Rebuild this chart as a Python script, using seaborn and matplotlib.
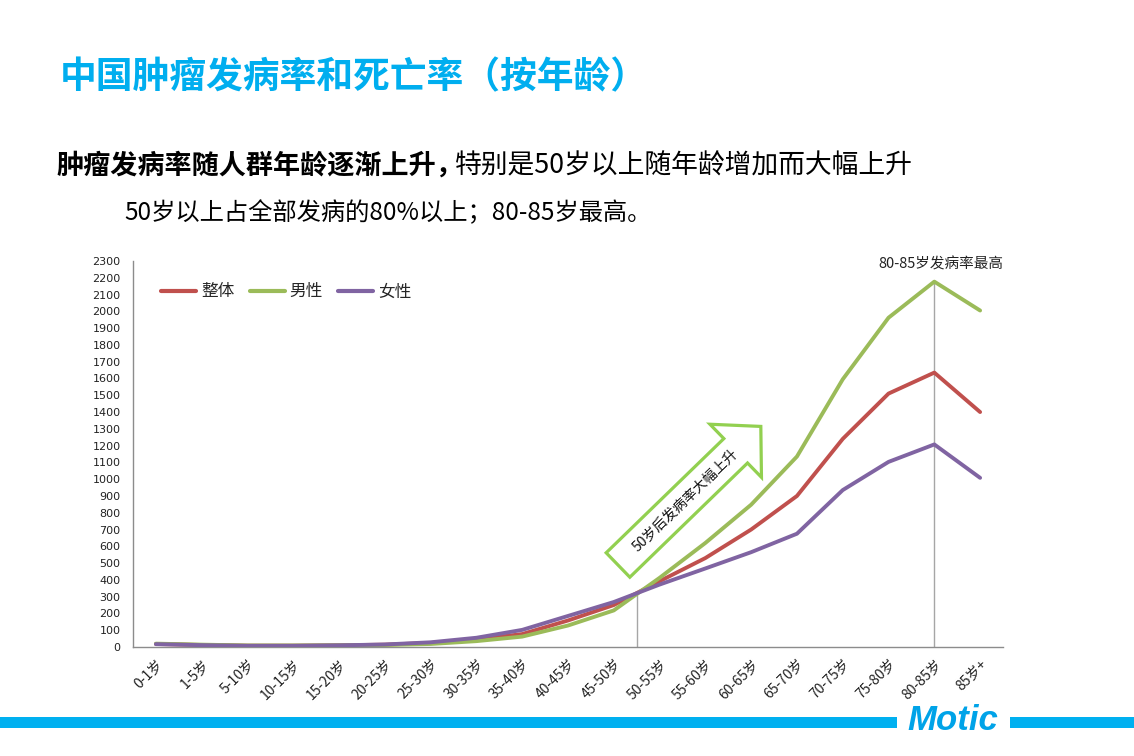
import numpy as np
import pandas as pd
import matplotlib
matplotlib.use("Agg")
import matplotlib.pyplot as plt
import seaborn as sns
from matplotlib.patches import Polygon, Rectangle

# ---------------- data ----------------
ages = ["0-1岁", "1-5岁", "5-10岁", "10-15岁", "15-20岁", "20-25岁", "25-30岁",
        "30-35岁", "35-40岁", "40-45岁", "45-50岁", "50-55岁", "55-60岁", "60-65岁",
        "65-70岁", "70-75岁", "75-80岁", "80-85岁", "85岁+"]
series_names = ["整体", "男性", "女性"]
total = [18, 12, 8, 8, 10, 14, 24, 45, 77, 158, 250, 392, 530, 700, 900, 1240, 1510, 1635, 1400]
male = [20, 14, 9, 9, 10, 12, 18, 35, 62, 128, 218, 412, 620, 848, 1135, 1595, 1962, 2177, 2005]
female = [17, 11, 7, 7, 10, 15, 28, 55, 102, 185, 268, 372, 468, 565, 675, 935, 1103, 1207, 1008]
yticks = list(range(0, 2301, 100))
colors = ["#C0504D", "#9BBB59", "#8064A2"]

W, H = 1134, 756

sns.set_style("white")
plt.rcParams['font.family'] = ['Noto Sans CJK SC', 'DejaVu Sans']
plt.rcParams['axes.unicode_minus'] = False

df = pd.DataFrame({
    "pos": np.tile(np.arange(len(ages)), 3),
    "age": ages * 3,
    "value": total + male + female,
    "series": np.repeat(series_names, len(ages)),
})

fig = plt.figure(figsize=(W / 100, H / 100), dpi=100)
fig.patch.set_facecolor("white")

def px(x, y):
    return x / W, 1 - y / H

ax_left, ax_right, ax_top, ax_bottom = 133, 1003, 261, 647
ax = fig.add_axes([ax_left / W, 1 - ax_bottom / H, (ax_right - ax_left) / W, (ax_bottom - ax_top) / H])

sns.lineplot(data=df, x="pos", y="value", hue="series", hue_order=series_names,
             palette=colors, linewidth=2.8, ax=ax, sort=False, legend=True, zorder=3)

ax.set_xlim(-0.5, len(ages) - 0.5)
ax.set_ylim(0, 2300)
ax.set_xlabel("")
ax.set_ylabel("")

# ticks
ax.set_yticks(yticks)
ax.set_yticklabels([str(v) for v in yticks], fontsize=8, family="DejaVu Sans", color="#222222")
ax.set_xticks(np.arange(len(ages)))
ax.set_xticklabels(ages, rotation=45, ha="right", rotation_mode="anchor", fontsize=10, color="#222222")
ax.set_xticks(np.arange(-0.5, len(ages)), minor=True)
ax.tick_params(axis="x", which="major", length=0, pad=7)
ax.tick_params(axis="x", which="minor", length=5, color="#8C8C8C", width=1, direction="out")
ax.tick_params(axis="y", which="major", length=4, color="#8C8C8C", width=1, direction="out", pad=5)

for s in ["top", "right"]:
    ax.spines[s].set_visible(False)
for s in ["left", "bottom"]:
    ax.spines[s].set_color("#8C8C8C")
    ax.spines[s].set_linewidth(1)
ax.grid(False)

# legend
leg = ax.legend(loc="center left", bbox_to_anchor=(0.025, 0.92), ncol=3, frameon=False,
                fontsize=12, handlelength=2.1, handletextpad=0.3, columnspacing=0.9, borderaxespad=0)
for line in leg.get_lines():
    line.set_linewidth(3)

# reference vertical lines
b = 10.5
ax.plot([b, b], [0, (total[10] + total[11]) / 2], color="#A6A6A6", lw=1, zorder=2)
ax.plot([17, 17], [0, male[17]], color="#A6A6A6", lw=1, zorder=2)

# peak annotation
fig.text(*px(1003, 264), "80-85岁发病率最高", ha="right", va="center", fontsize=10.5, color="#222222")

# hollow arrow annotation (pixel geometry)
S = np.array([618.0, 565.0])
d = np.array([118.0, -114.5]); d /= np.linalg.norm(d)
n = np.array([-d[1], d[0]])
if n[1] < 0:
    n = -n
w_s, w_h, L, Hh = 17, 37, 164, 35
pts = [S - n * w_s, S + d * L - n * w_s, S + d * L - n * w_h, S + d * (L + Hh),
       S + d * L + n * w_h, S + d * L + n * w_s, S + n * w_s]
pts_fig = [px(p[0], p[1]) for p in pts]
arrow = Polygon(pts_fig, closed=True, transform=fig.transFigure, facecolor="white",
                edgecolor="#92D050", linewidth=2.3, zorder=5)
fig.patches.append(arrow)
fig.text(*px(685, 500), "50岁后发病率大幅上升", rotation=44, ha="center", va="center",
         fontsize=10, color="#111111", zorder=6, rotation_mode="anchor")

# titles
fig.text(*px(60, 78), "中国肿瘤发病率和死亡率（按年龄）", ha="left", va="center",
         fontsize=26.5, fontweight="bold", color="#00AEEF")
fig.text(*px(56, 166), "肿瘤发病率随人群年龄逐渐上升，", ha="left", va="center",
         fontsize=19.5, fontweight="bold", color="black")
fig.text(*px(455, 166), "特别是50岁以上随年龄增加而大幅上升", ha="left", va="center",
         fontsize=19.3, color="black")
fig.text(*px(124, 213), "50岁以上占全部发病的80%以上；80-85岁最高。", ha="left", va="center",
         fontsize=17.5, color="black")

# bottom bar + logo
fig.patches.append(Rectangle(px(0, 728), 897 / W, 11 / H, transform=fig.transFigure,
                             facecolor="#00B0F0", edgecolor="none"))
fig.patches.append(Rectangle(px(1010, 728), (W - 1010) / W, 11 / H, transform=fig.transFigure,
                             facecolor="#00B0F0", edgecolor="none"))
fig.text(*px(953, 721), "Motic", ha="center", va="center", fontsize=25, fontweight="bold",
         fontstyle="italic", color="#00A3E8", family=["Liberation Sans Narrow", "Liberation Sans", "DejaVu Sans"])

fig.savefig("out.png", dpi=100, facecolor="white")
